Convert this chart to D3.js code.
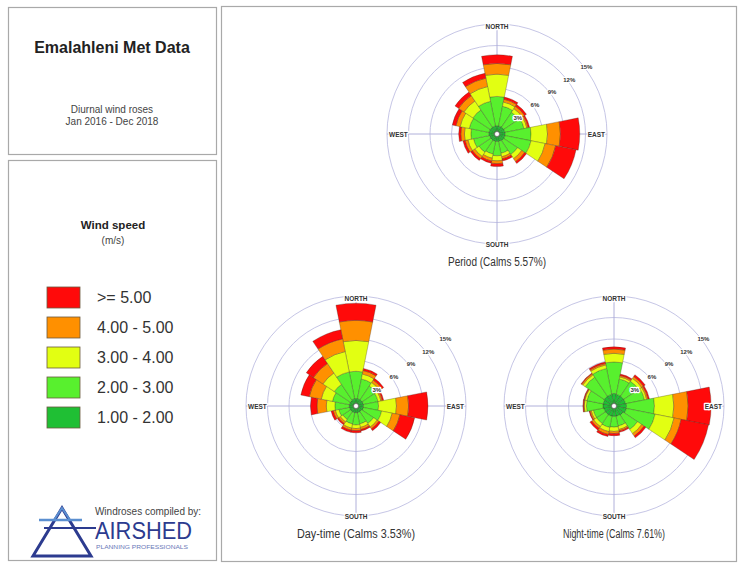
<!DOCTYPE html>
<html lang="en">
<head>
<meta charset="UTF-8">
<title>Emalahleni Met Data - Diurnal wind roses</title>
<style>
  body { margin: 0; background: #fff; }
  svg { display: block; font-family: "Liberation Sans", Arial, sans-serif; }
  .box { fill: #fff; stroke: #a9a9a9; stroke-width: 1.2; }
  .ring { fill: none; stroke: #c6c6e6; stroke-width: 1; }
  .axis-line { stroke: #b0b0da; stroke-width: 1; }
  .seg { stroke: #3b2a1e; stroke-width: 0.4; stroke-opacity: 0.75; }
  .halo { paint-order: stroke; stroke: #fff; stroke-width: 2.5px; stroke-linejoin: round; }
</style>
</head>
<body>
<svg id="chart" width="739" height="565"></svg>
<script src="https://d3js.org/d3.v7.min.js"></script>
<script>
// 16 wind directions, clockwise from north
const directions = ["N", "NNE", "NE", "ENE", "E", "ESE", "SE", "SSE",
                    "S", "SSW", "SW", "WSW", "W", "WNW", "NW", "NNW"];

// speed classes from the centre outwards
const speedClasses = ["1.00 - 2.00", "2.00 - 3.00", "3.00 - 4.00", "4.00 - 5.00", ">= 5.00"];
const classColors = ["#1fbf34", "#58f02e", "#e2ff12", "#ff9000", "#ff0a0a"];

const ringTicks = [3, 6, 9, 12, 15];
const compassLabels = ["NORTH", "EAST", "SOUTH", "WEST"];

// frequency (%) per direction for each speed class (1-2, 2-3, 3-4, 4-5, >=5)
const periodFreq = [
  [0.8, 4.1, 3.1, 1.5, 1.2],
  [0.8, 2.8, 0.6, 0.4, 0.3],
  [0.8, 2.5, 0.6, 0.4, 0.3],
  [0.8, 2.7, 0.4, 0.2, 0.2],
  [0.8, 3.6, 2.3, 1.8, 2.7],
  [0.8, 3.7, 2.0, 1.5, 2.9],
  [0.8, 2.3, 0.7, 0.5, 0.3],
  [0.7, 1.7, 0.5, 0.3, 0.3],
  [0.7, 2.0, 0.7, 0.4, 0.4],
  [0.7, 1.8, 0.6, 0.4, 0.3],
  [0.7, 2.0, 0.7, 0.4, 0.3],
  [0.7, 2.3, 0.8, 0.4, 0.3],
  [0.8, 2.5, 0.9, 0.5, 0.3],
  [0.8, 2.8, 1.3, 0.6, 0.5],
  [0.8, 2.9, 1.5, 0.9, 0.6],
  [0.8, 3.5, 2.1, 1.2, 0.7]
];

const dayFreq = [
  [0.7, 3.8, 4.3, 2.8, 2.4],
  [0.7, 2.8, 0.7, 0.5, 0.3],
  [0.7, 2.3, 0.6, 0.4, 0.3],
  [0.7, 2.1, 0.4, 0.2, 0.2],
  [0.7, 2.1, 2.5, 1.7, 2.7],
  [0.7, 2.6, 1.5, 1.1, 2.1],
  [0.6, 2.0, 0.6, 0.3, 0.3],
  [0.6, 1.6, 0.5, 0.3, 0.2],
  [0.6, 1.7, 0.5, 0.3, 0.3],
  [0.6, 1.6, 0.6, 0.3, 0.3],
  [0.6, 1.3, 0.4, 0.3, 0.2],
  [0.6, 1.5, 0.5, 0.3, 0.3],
  [0.6, 2.0, 1.2, 1.3, 0.9],
  [0.6, 2.4, 1.6, 1.7, 1.2],
  [0.6, 2.7, 1.9, 1.6, 1.2],
  [0.7, 3.8, 2.9, 1.8, 1.3]
];

const nightFreq = [
  [1.4, 4.4, 1.2, 0.6, 0.3],
  [1.3, 2.2, 0.3, 0.2, 0.2],
  [1.3, 2.5, 0.5, 0.3, 0.3],
  [1.3, 2.7, 0.3, 0.2, 0.2],
  [1.4, 3.9, 2.7, 2.0, 3.2],
  [1.4, 4.1, 2.7, 1.0, 3.9],
  [1.2, 2.4, 0.7, 0.4, 0.3],
  [1.1, 1.4, 0.5, 0.2, 0.2],
  [1.1, 1.5, 0.6, 0.3, 0.3],
  [1.1, 1.6, 0.6, 0.4, 0.3],
  [1.1, 1.5, 0.5, 0.3, 0.3],
  [1.1, 1.5, 0.3, 0.2, 0.1],
  [1.2, 2.3, 0.3, 0.1, 0.1],
  [1.2, 2.3, 0.3, 0.1, 0.1],
  [1.3, 3.2, 0.4, 0.2, 0.1],
  [1.3, 3.7, 0.5, 0.2, 0.2]
];

const roseTitles = ["Period (Calms 5.57%)", "Day-time (Calms 3.53%)", "Night-time (Calms 7.61%)"];

const svg = d3.select("#chart");

// panels
svg.append("rect").attr("class", "box").attr("x", 8.5).attr("y", 7.5).attr("width", 208).attr("height", 147);
svg.append("rect").attr("class", "box").attr("x", 8.5).attr("y", 160.5).attr("width", 208).attr("height", 400);
svg.append("rect").attr("class", "box").attr("x", 221.5).attr("y", 6.5).attr("width", 515).attr("height", 555);

// title panel
svg.append("text").attr("x", 112).attr("y", 53).attr("text-anchor", "middle")
  .attr("font-size", 16).attr("font-weight", "bold").attr("fill", "#222")
  .text("Emalahleni Met Data");
svg.append("text").attr("x", 112).attr("y", 113).attr("text-anchor", "middle")
  .attr("font-size", 10).attr("fill", "#444").text("Diurnal wind roses");
svg.append("text").attr("x", 112).attr("y", 125).attr("text-anchor", "middle")
  .attr("font-size", 10).attr("fill", "#444").text("Jan 2016 - Dec 2018");

// legend panel
svg.append("text").attr("x", 113).attr("y", 229).attr("text-anchor", "middle")
  .attr("font-size", 11.5).attr("font-weight", "bold").attr("fill", "#222").text("Wind speed");
svg.append("text").attr("x", 113).attr("y", 244).attr("text-anchor", "middle")
  .attr("font-size", 10).attr("fill", "#444").text("(m/s)");

const legendItems = speedClasses.map((s, i) => ({ label: s, color: classColors[i] })).reverse();
const legend = svg.append("g").selectAll("g")
  .data(legendItems)
  .enter().append("g")
  .attr("transform", (d, i) => `translate(47, ${287 + i * 30})`);
legend.append("rect")
  .attr("width", 33).attr("height", 21)
  .attr("fill", d => d.color).attr("stroke", "#6b5a40").attr("stroke-width", 0.8);
legend.append("text")
  .attr("x", 50).attr("y", 16)
  .attr("font-size", 16).attr("fill", "#333")
  .text(d => d.label);

// logo
svg.append("text").attr("x", 148).attr("y", 515).attr("text-anchor", "middle")
  .attr("font-size", 10).attr("fill", "#444").text("Windroses compiled by:");
svg.append("text").attr("x", 95).attr("y", 539)
  .attr("font-size", 24).attr("fill", "#2c3b8f")
  .attr("textLength", 97).attr("lengthAdjust", "spacingAndGlyphs").text("AIRSHED");
svg.append("text").attr("x", 96).attr("y", 549)
  .attr("font-size", 5).attr("fill", "#6a78b8")
  .attr("textLength", 92).attr("lengthAdjust", "spacingAndGlyphs").text("PLANNING PROFESSIONALS");
const logo = svg.append("g");
logo.append("path").attr("d", "M33,556 L62,508 L91,556 Z")
  .attr("fill", "none").attr("stroke", "#2c3b8f").attr("stroke-width", 3).attr("stroke-linejoin", "miter");
logo.append("path").attr("d", "M62,508 L54,520 L70,520 Z")
  .attr("fill", "none").attr("stroke", "#5b8fd0").attr("stroke-width", 2);
logo.append("line").attr("x1", 39).attr("x2", 82).attr("y1", 520).attr("y2", 520)
  .attr("stroke", "#5b8fd0").attr("stroke-width", 2.5);
logo.append("line").attr("x1", 44).attr("x2", 96).attr("y1", 528).attr("y2", 528)
  .attr("stroke", "#2c3b8f").attr("stroke-width", 2);

// wind roses
const roses = [
  { data: periodFreq, title: roseTitles[0], cx: 497, cy: 134, titleWidth: 98 },
  { data: dayFreq, title: roseTitles[1], cx: 356, cy: 406, titleWidth: 118 },
  { data: nightFreq, title: roseTitles[2], cx: 614, cy: 406, titleWidth: 102 }
];

const rScale = d3.scaleLinear().domain([0, 15]).range([2.5, 110]);
const aScale = d3.scaleBand().domain(directions)
  .range([-Math.PI / 16, 2 * Math.PI - Math.PI / 16]);
const arc = d3.arc();

roses.forEach(rose => {
  const g = svg.append("g").attr("transform", `translate(${rose.cx},${rose.cy})`);
  const R = rScale(15);

  g.selectAll(".ring").data(ringTicks).enter().append("circle")
    .attr("class", "ring").attr("r", d => rScale(d));
  g.append("line").attr("class", "axis-line").attr("x1", 0).attr("x2", 0).attr("y1", -R).attr("y2", R);
  g.append("line").attr("class", "axis-line").attr("x1", -R).attr("x2", R).attr("y1", 0).attr("y2", 0);

  // build segments
  const segs = [];
  rose.data.forEach((row, di) => {
    const cum = d3.cumsum(row);
    row.forEach((v, ci) => {
      segs.push({
        dir: directions[di], cls: ci,
        inner: ci === 0 ? 0 : cum[ci - 1], outer: cum[ci]
      });
    });
  });

  g.selectAll(".seg").data(segs).enter().append("path")
    .attr("class", "seg")
    .attr("fill", d => classColors[d.cls])
    .attr("d", d => arc({
      innerRadius: rScale(d.inner),
      outerRadius: rScale(d.outer),
      startAngle: aScale(d.dir),
      endAngle: aScale(d.dir) + aScale.bandwidth()
    }));

  g.append("circle").attr("r", 2.5).attr("fill", "#fff").attr("stroke", "#333").attr("stroke-width", 0.5);

  // ring labels
  const la = 53 * Math.PI / 180;
  g.selectAll(".ring-label").data(ringTicks).enter().append("text")
    .attr("class", "halo")
    .attr("x", d => (rScale(d) + 2) * Math.sin(la))
    .attr("y", d => -(rScale(d) + 2) * Math.cos(la))
    .attr("text-anchor", "middle").attr("dominant-baseline", "central")
    .attr("font-size", 6).attr("font-weight", "bold").attr("fill", "#333")
    .text(d => d + "%");

  // compass labels
  const pos = {
    NORTH: [0, -R + 2, "middle"], EAST: [R - 2, 0, "end"],
    SOUTH: [0, R, "middle"], WEST: [-R + 2, 0, "start"]
  };
  g.selectAll(".compass").data(compassLabels).enter().append("text")
    .attr("class", "halo")
    .attr("x", d => pos[d][0]).attr("y", d => pos[d][1])
    .attr("text-anchor", d => pos[d][2]).attr("dominant-baseline", "central")
    .attr("font-size", 6.5).attr("font-weight", "bold").attr("fill", "#333")
    .text(d => d);

  g.append("text").attr("x", 0).attr("y", R + 22)
    .attr("text-anchor", "middle").attr("font-size", 12).attr("fill", "#333")
    .attr("textLength", rose.titleWidth).attr("lengthAdjust", "spacingAndGlyphs")
    .text(rose.title);
});
</script>
</body>
</html>
